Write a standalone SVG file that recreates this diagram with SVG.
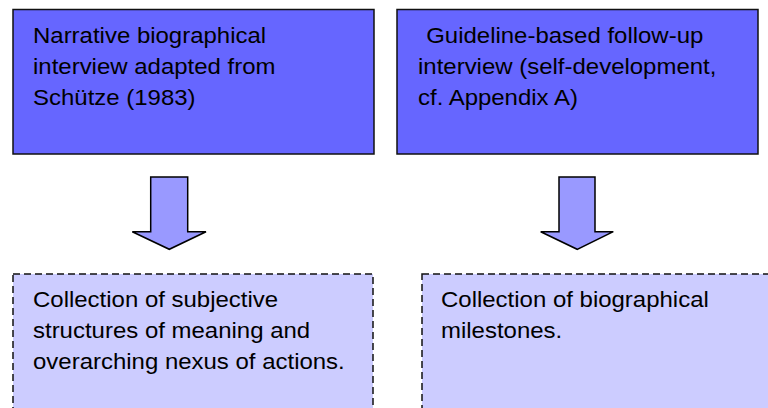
<svg xmlns="http://www.w3.org/2000/svg" width="768" height="408" viewBox="0 0 768 408">
  <style>
    .top { fill: #6666FF; stroke: #111; stroke-width: 1.5; }
    .bottom { fill: #CCCCFF; stroke: #111; stroke-width: 1.5; stroke-dasharray: 7 4; }
    .arrow { fill: #9999FF; stroke: #000; stroke-width: 1.5; stroke-linejoin: miter; }
    .lbl { font-family: "Liberation Sans", Arial, sans-serif; font-size: 22px; fill: #000; }
  </style>
  <rect width="768" height="408" fill="#fff"/>
  <g id="node-narrative">
    <rect class="top" x="13" y="9.5" width="361" height="144.5"/>
    <g transform="translate(33,0) scale(1.09,1)">
      <text class="lbl" x="0" y="43">Narrative biographical</text>
      <text class="lbl" x="0" y="74">interview adapted from</text>
      <text class="lbl" x="0" y="105">Schütze (1983)</text>
    </g>
  </g>
  <g id="node-guideline">
    <rect class="top" x="397" y="9.5" width="361" height="144.5"/>
    <g transform="translate(418,0) scale(1.09,1)">
      <text class="lbl" x="7.5" y="43">Guideline-based follow-up</text>
      <text class="lbl" x="0" y="74">interview (self-development,</text>
      <text class="lbl" x="0" y="105">cf. Appendix A)</text>
    </g>
  </g>
  <g id="node-subjective">
    <rect class="bottom" x="13" y="274" width="360" height="150"/>
    <g transform="translate(33,0) scale(1.09,1)">
      <text class="lbl" x="0" y="307">Collection of subjective</text>
      <text class="lbl" x="0" y="338">structures of meaning and</text>
      <text class="lbl" x="0" y="369">overarching nexus of actions.</text>
    </g>
  </g>
  <g id="node-milestones">
    <rect class="bottom" x="422" y="274" width="370" height="150"/>
    <g transform="translate(441,0) scale(1.09,1)">
      <text class="lbl" x="0" y="307">Collection of biographical</text>
      <text class="lbl" x="0" y="338">milestones.</text>
    </g>
  </g>
  <g id="connectors">
    <polygon class="arrow" points="150.7,177 187.7,177 187.7,231.7 206,231.7 169.3,249.3 132.3,231.7 150.7,231.7"/>
    <polygon class="arrow" points="559,177 595,177 595,231.7 613.3,231.7 577.2,249.3 540.7,231.7 559,231.7"/>
  </g>
</svg>
